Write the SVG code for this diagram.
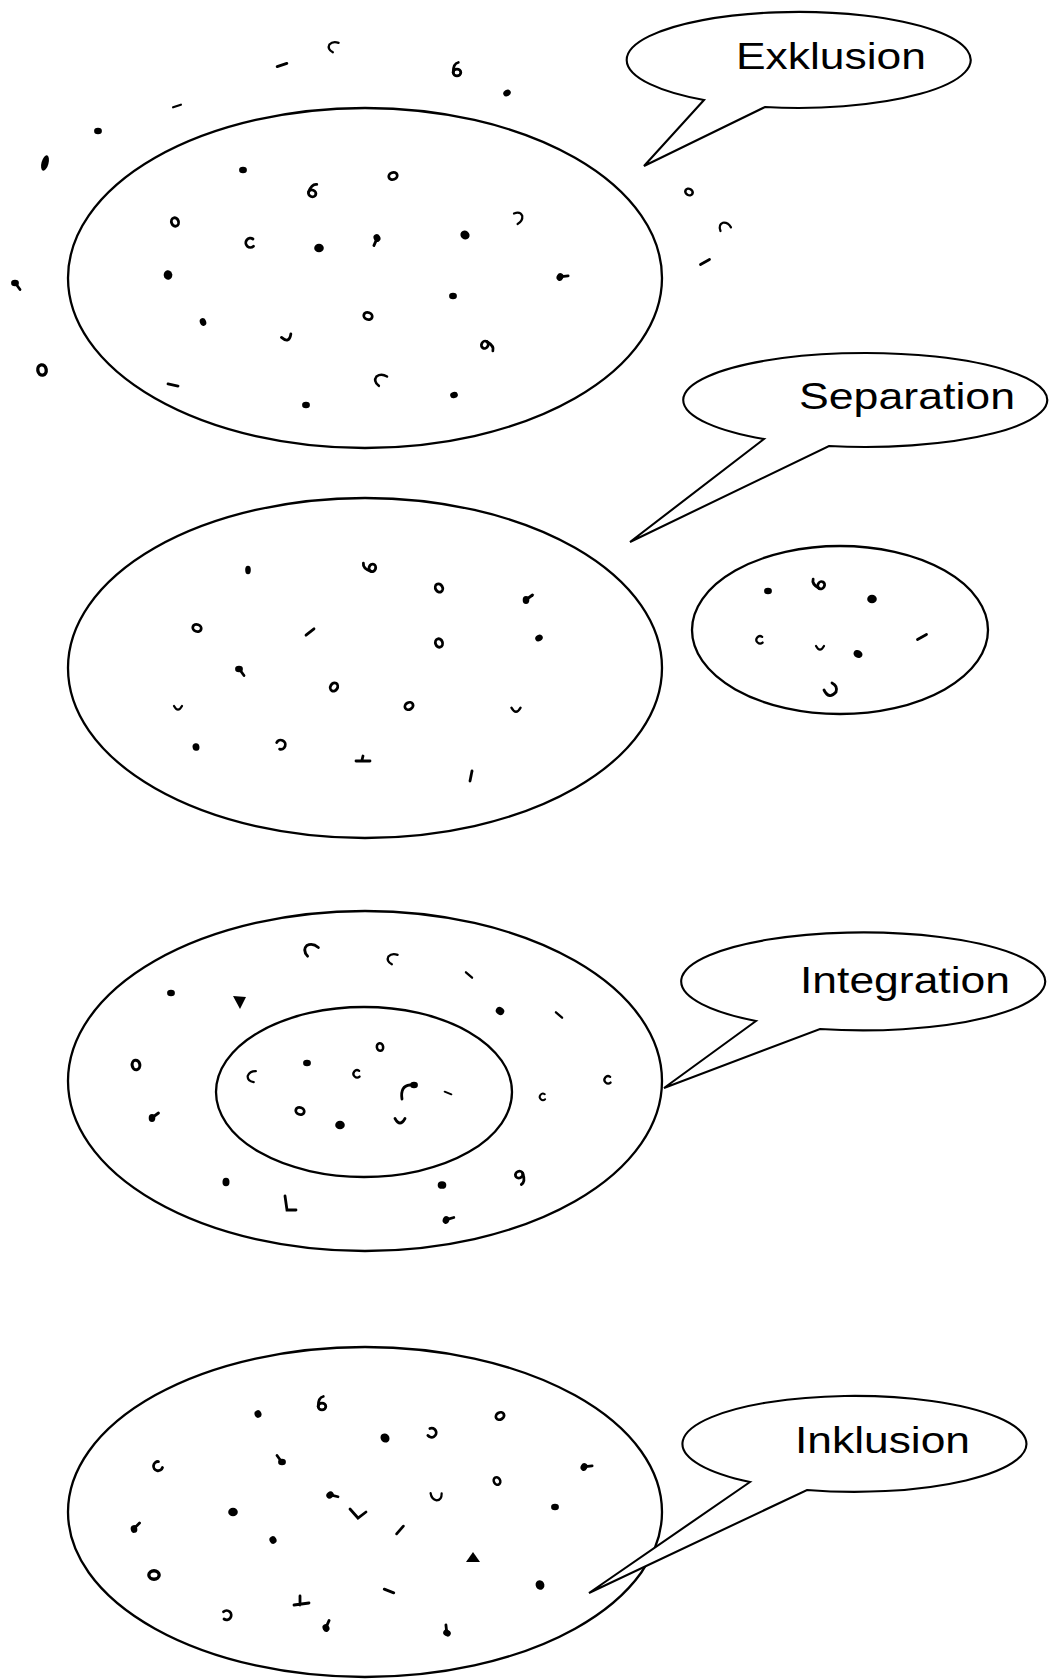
<svg xmlns="http://www.w3.org/2000/svg" xmlns:xlink="http://www.w3.org/1999/xlink" width="1054" height="1680" viewBox="0 0 1054 1680">
  <style>
    .set { fill: none; stroke: #000; stroke-width: 2.3; }
    .bubble { fill: #fff; stroke: #000; stroke-width: 2.1; stroke-linejoin: miter; }
    .label { font-family: "Liberation Sans", Arial, Helvetica, sans-serif; font-size: 36px; fill: #000; }
    .ink { fill: #000; stroke: none; }
    .pen { fill: none; stroke: #000; stroke-width: 2.8; stroke-linecap: round; }
  </style>
  <defs>
    <!-- small hand-drawn marks used to populate the sets -->
    <ellipse id="m-dot" class="ink" rx="3.9" ry="3.2"/>
    <ellipse id="m-blob" class="ink" rx="4.8" ry="4.3"/>
    <ellipse id="m-ring" class="pen" rx="4.3" ry="3.5"/>
    <path id="m-c" class="pen" d="M4,-4 A4.6,4.6 0 1 0 4.5,3.2"/>
    <path id="m-u" class="pen" d="M-5,-2.5 Q0,6.5 5,-2.5"/>
    <path id="m-dash" class="pen" d="M-4,3.2 L4,-3.2" stroke-width="3.2"/>
    <g id="m-tail"><ellipse class="ink" rx="3.9" ry="3.3"/><path class="pen" d="M1,1 L5,6.5" stroke-width="1.8"/></g>
    <g id="m-six"><ellipse class="pen" cx="0" cy="2.5" rx="3.8" ry="3.3" stroke-width="2.4"/><path class="pen" d="M-3.8,2.5 Q-3.8,-6.5 1.3,-7.5" stroke-width="2.4"/></g>
    <path id="m-curl" class="pen" d="M-6.5,-1.3 Q-1.3,-7.8 3.9,-3.9 Q7.8,1.3 3.9,7.8"/>
  </defs>

  <!-- Exklusion -->
  <g id="exklusion">
    <ellipse class="set" cx="365" cy="278" rx="297" ry="170"/>
    <g id="exklusion-members">
      <use href="#m-dot" transform="translate(243,170)"/>
      <use href="#m-six" transform="translate(313,191) rotate(20)"/>
      <use href="#m-ring" transform="translate(393,176) rotate(-20)"/>
      <use href="#m-ring" transform="translate(175,222) rotate(70)"/>
      <use href="#m-c" transform="translate(249,243)"/>
      <use href="#m-blob" transform="translate(319,248)"/>
      <use href="#m-tail" transform="translate(377,238) rotate(60)"/>
      <use href="#m-blob" transform="translate(465,235) rotate(40)"/>
      <use href="#m-blob" transform="translate(168,275) rotate(80)"/>
      <use href="#m-curl" transform="translate(518,217) rotate(30) scale(0.8)"/>
      <use href="#m-tail" transform="translate(560,277) rotate(-60)"/>
      <use href="#m-dot" transform="translate(203,322) rotate(70)"/>
      <use href="#m-u" transform="translate(287,338) rotate(-20)"/>
      <use href="#m-ring" transform="translate(368,316) rotate(20)"/>
      <use href="#m-dot" transform="translate(453,296)"/>
      <use href="#m-six" transform="translate(487,346) rotate(120)"/>
      <use href="#m-dash" transform="translate(173,385) rotate(50)"/>
      <use href="#m-curl" transform="translate(380,380) rotate(-90) scale(0.9)"/>
      <use href="#m-dot" transform="translate(306,405)"/>
      <use href="#m-dot" transform="translate(454,395) rotate(-15)"/>
    </g>
    <g id="exklusion-outsiders">
      <use href="#m-curl" transform="translate(333,47) rotate(-100) scale(0.8)"/>
      <use href="#m-dash" transform="translate(282,65) rotate(20)"/>
      <use href="#m-six" transform="translate(457,70)"/>
      <use href="#m-dot" transform="translate(507,93) rotate(-30)"/>
      <use href="#m-dash" transform="translate(177,106) rotate(20) scale(0.8)"/>
      <use href="#m-dot" transform="translate(98,131)"/>
      <ellipse class="ink" cx="45" cy="163" rx="3.5" ry="8" transform="rotate(15 45 163)"/>
      <use href="#m-tail" transform="translate(15,283)"/>
      <use href="#m-ring" transform="translate(42,370) rotate(80) scale(1.2)"/>
      <use href="#m-ring" transform="translate(689,192) rotate(30) scale(0.9)"/>
      <use href="#m-curl" transform="translate(724,227) rotate(-60) scale(0.8)"/>
      <use href="#m-dash" transform="translate(705,262) rotate(10)"/>
    </g>
  </g>
  <g id="bubble-exklusion">
    <path class="bubble" d="M704,100 L644,166 L765,107 A172,48 0 1 0 704,100 Z"/>
    <text class="label" x="736" y="69" textLength="190" lengthAdjust="spacingAndGlyphs">Exklusion</text>
  </g>

  <!-- Separation -->
  <g id="separation">
    <ellipse class="set" cx="365" cy="668" rx="297" ry="170"/>
    <g id="separation-members">
      <ellipse class="ink" cx="248" cy="570" rx="2.8" ry="4.2"/>
      <use href="#m-six" transform="translate(370,567) rotate(-70)"/>
      <use href="#m-ring" transform="translate(439,588) rotate(60)"/>
      <use href="#m-tail" transform="translate(526,600) rotate(-90)"/>
      <use href="#m-ring" transform="translate(197,628) rotate(20)"/>
      <use href="#m-dash" transform="translate(310,632)"/>
      <use href="#m-ring" transform="translate(439,643) rotate(70)"/>
      <use href="#m-dot" transform="translate(539,638) rotate(-30)"/>
      <use href="#m-tail" transform="translate(239,669)"/>
      <use href="#m-ring" transform="translate(334,687) rotate(-60)"/>
      <use href="#m-ring" transform="translate(409,706) rotate(-30)"/>
      <use href="#m-u" transform="translate(178,708) scale(0.8)"/>
      <use href="#m-u" transform="translate(516,710) scale(0.9)"/>
      <use href="#m-blob" transform="translate(196,747) rotate(80) scale(0.8)"/>
      <use href="#m-c" transform="translate(282,744) rotate(160)"/>
      <path class="pen" d="M356,761 L370,761 M362,760 L363,756"/>
      <use href="#m-dash" transform="translate(471,776) rotate(-40)"/>
    </g>
  </g>
  <g id="separation-minority">
    <ellipse class="set" cx="840" cy="630" rx="148" ry="84"/>
    <use href="#m-dot" transform="translate(768,591)"/>
    <use href="#m-six" transform="translate(819,584) rotate(-60)"/>
    <use href="#m-blob" transform="translate(872,599)"/>
    <use href="#m-c" transform="translate(759,640) scale(0.8)"/>
    <use href="#m-u" transform="translate(820,648) scale(0.8)"/>
    <use href="#m-dot" transform="translate(858,654) rotate(30) scale(1.2)"/>
    <use href="#m-dash" transform="translate(922,637) rotate(10)"/>
    <path class="pen" d="M824,690 Q829,700 836,692 Q838,686 832,683"/>
  </g>
  <g id="bubble-separation">
    <path class="bubble" d="M764,439 L630,542 L829,446 A182,47 0 1 0 764,439 Z"/>
    <text class="label" x="799" y="409" textLength="216" lengthAdjust="spacingAndGlyphs">Separation</text>
  </g>

  <!-- Integration -->
  <g id="integration">
    <ellipse class="set" cx="365" cy="1081" rx="297" ry="170"/>
    <g id="integration-majority">
      <use href="#m-curl" transform="translate(310,950) rotate(-80)"/>
      <use href="#m-curl" transform="translate(392,959) rotate(-100) scale(0.8)"/>
      <use href="#m-dash" transform="translate(469,975) rotate(80) scale(0.8)"/>
      <use href="#m-dot" transform="translate(171,993)"/>
      <path class="ink" d="M233,996 L246,997 L240,1009 Z"/>
      <use href="#m-blob" transform="translate(500,1011) rotate(30) scale(0.9)"/>
      <use href="#m-dash" transform="translate(559,1015) rotate(80) scale(0.8)"/>
      <use href="#m-ring" transform="translate(136,1065) rotate(80) scale(1.1)"/>
      <use href="#m-c" transform="translate(607,1080) scale(0.8)"/>
      <use href="#m-c" transform="translate(542,1097) scale(0.7)"/>
      <use href="#m-tail" transform="translate(152,1118) rotate(-90)"/>
      <use href="#m-dot" transform="translate(226,1182) rotate(90) scale(1.1)"/>
      <path class="pen" d="M285,1196 L287,1210 L296,1210"/>
      <use href="#m-blob" transform="translate(442,1185) scale(0.9)"/>
      <use href="#m-six" transform="translate(520,1177) rotate(160)"/>
      <use href="#m-tail" transform="translate(446,1220) rotate(-70)"/>
    </g>
    <ellipse class="set" cx="364" cy="1092" rx="148" ry="85"/>
    <g id="integration-minority">
      <use href="#m-ring" transform="translate(380,1047) rotate(80) scale(0.9)"/>
      <use href="#m-dot" transform="translate(307,1063)"/>
      <use href="#m-curl" transform="translate(252,1077) rotate(-120) scale(0.8)"/>
      <use href="#m-c" transform="translate(356,1074) scale(0.8)"/>
      <path class="pen" d="M402,1099 Q400,1086 410,1085"/>
      <use href="#m-dot" transform="translate(414,1085)"/>
      <use href="#m-dash" transform="translate(448,1093) rotate(60) scale(0.7)"/>
      <use href="#m-ring" transform="translate(300,1111) rotate(20)"/>
      <use href="#m-blob" transform="translate(340,1125)"/>
      <use href="#m-u" transform="translate(400,1121)"/>
    </g>
  </g>
  <g id="bubble-integration">
    <path class="bubble" d="M756,1021 L664,1088 L820,1029 A182,49 0 1 0 756,1021 Z"/>
    <text class="label" x="800" y="993" textLength="210" lengthAdjust="spacingAndGlyphs">Integration</text>
  </g>

  <!-- Inklusion -->
  <g id="inklusion">
    <ellipse class="set" cx="365" cy="1512" rx="297" ry="165"/>
    <g id="inklusion-members">
      <use href="#m-blob" transform="translate(258,1414) rotate(70) scale(0.8)"/>
      <use href="#m-six" transform="translate(322,1404)"/>
      <use href="#m-blob" transform="translate(385,1438) rotate(50)"/>
      <use href="#m-c" transform="translate(433,1433) rotate(200)"/>
      <use href="#m-ring" transform="translate(500,1416) rotate(-30)"/>
      <use href="#m-c" transform="translate(157,1467) rotate(-30)"/>
      <use href="#m-tail" transform="translate(282,1462) rotate(180)"/>
      <use href="#m-ring" transform="translate(497,1481) rotate(60) scale(0.9)"/>
      <use href="#m-tail" transform="translate(584,1467) rotate(-60)"/>
      <use href="#m-curl" transform="translate(437,1496) rotate(140) scale(0.8)"/>
      <use href="#m-tail" transform="translate(330,1495) rotate(-40)"/>
      <use href="#m-blob" transform="translate(233,1512)"/>
      <path class="pen" d="M350,1509 L358,1518 L366,1512"/>
      <use href="#m-dot" transform="translate(555,1507)"/>
      <use href="#m-tail" transform="translate(134,1529) rotate(-100)"/>
      <use href="#m-dash" transform="translate(400,1530) rotate(-10)"/>
      <use href="#m-blob" transform="translate(273,1540) rotate(60) scale(0.8)"/>
      <path class="ink" d="M466,1562 L480,1562 L473,1552 Z"/>
      <use href="#m-blob" transform="translate(540,1585) rotate(60)"/>
      <use href="#m-ring" transform="translate(154,1575) scale(1.2)"/>
      <use href="#m-dash" transform="translate(389,1591) rotate(60)"/>
      <path class="pen" d="M294,1605 L309,1603 M300,1605 L300,1596"/>
      <use href="#m-c" transform="translate(228,1615) rotate(180)"/>
      <use href="#m-tail" transform="translate(326,1628) rotate(-120)"/>
      <use href="#m-tail" transform="translate(447,1633) rotate(-150)"/>
    </g>
  </g>
  <g id="bubble-inklusion">
    <path class="bubble" d="M750,1482 L589,1593 L807,1490 A172,48 0 1 0 750,1482 Z"/>
    <text class="label" x="795" y="1453" textLength="175" lengthAdjust="spacingAndGlyphs">Inklusion</text>
  </g>

  <g id="connectors"/>
</svg>
